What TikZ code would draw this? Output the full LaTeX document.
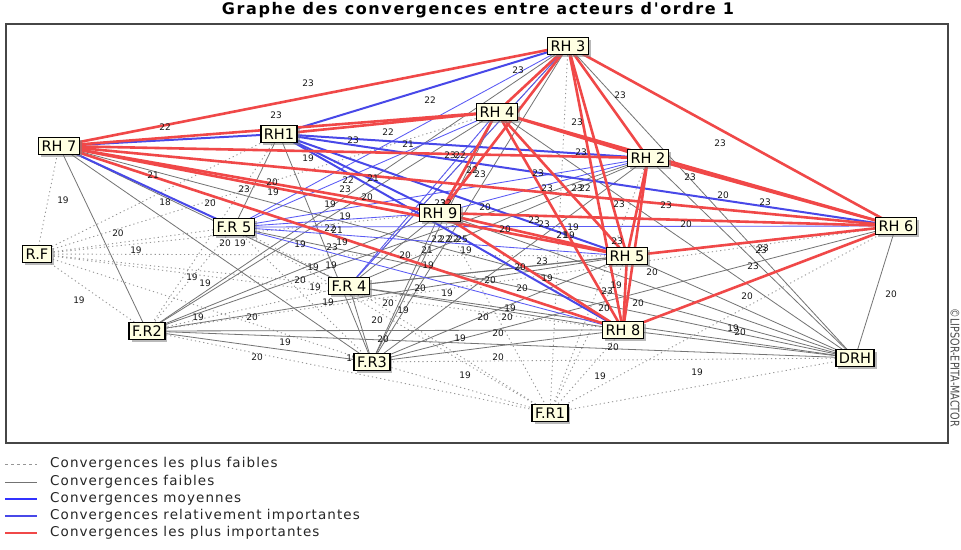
\documentclass[tikz,border=0pt]{standalone}
\usepackage{fontspec}
\setmainfont{DejaVu Sans}
\newfontfamily\legfont[LetterSpace=8]{DejaVu Sans}
\newfontfamily\titfont[LetterSpace=10]{DejaVu Sans}
\usetikzlibrary{shadows}
\definecolor{cred}{RGB}{240,72,72}
\definecolor{cblue}{RGB}{72,72,232}
\definecolor{cbluet}{RGB}{90,90,245}
\definecolor{cbluel}{RGB}{50,50,255}
\definecolor{cgray}{RGB}{115,115,115}
\definecolor{cdot}{RGB}{150,150,150}
\definecolor{nfill}{RGB}{255,255,226}
\definecolor{frm}{RGB}{70,70,70}
\pgfdeclarelayer{bg}
\pgfdeclarelayer{edges}
\pgfdeclarelayer{lbl}
\pgfsetlayers{bg,edges,lbl,main}
\begin{document}
\begin{tikzpicture}[x=1pt,y=-1pt,
  actor/.style={draw=black,line width=1.3pt,fill=nfill,inner xsep=3pt,inner ysep=3pt,
    font=\fontsize{14.5}{14.5}\selectfont,
    drop shadow={shadow xshift=2.5pt,shadow yshift=-2.5pt,fill=black!50,opacity=0.55}},
  lab/.style={font=\fontsize{9}{9}\selectfont,inner sep=0pt,text=black!90},
  dotl/.style={draw=cdot,line width=0.9pt,dash pattern=on 1.2pt off 3pt},
  grayl/.style={draw=cgray,line width=0.8pt},
  bluet/.style={draw=cbluet,line width=0.85pt},
  blueb/.style={draw=cblue,line width=2pt},
  redl/.style={draw=cred,line width=2.6pt},
  legtext/.style={anchor=west,inner sep=0pt,font=\legfont\fontsize{13.5}{13.5}\selectfont,text=black!85},
  frame/.style={draw=frm,line width=1.4pt}]
\useasboundingbox (0,0) rectangle (961,549);
\begin{pgfonlayer}{bg}
\fill[white] (0,0) rectangle (961,549);
\end{pgfonlayer}
\draw[frame] (6,24) rectangle (948,443);
\node[font=\titfont\fontsize{16}{16}\selectfont\bfseries,inner sep=0pt] (title) at (478,10) {Graphe des convergences entre acteurs d'ordre 1};
\node[rotate=-90,inner sep=0pt,font=\fontsize{12}{12}\selectfont,text=black!70] (copy) at (955,368) {\scalebox{0.8}[1]{©LIPSOR-EPITA-MACTOR}};
% actors
\node[actor] (r3) at (568,46) {RH 3};
\node[actor] (r4) at (497,112) {RH 4};
\node[actor] (r1) at (279,134) {RH1};
\node[actor] (r7) at (59,146) {RH 7};
\node[actor] (r2) at (648,158) {RH 2};
\node[actor] (r9) at (440,213) {RH 9};
\node[actor] (f5) at (234,227) {F.R 5};
\node[actor] (r6) at (896,226) {RH 6};
\node[actor] (rf) at (37,254) {R.F};
\node[actor] (r5) at (627,256) {RH 5};
\node[actor] (f4) at (349,286) {F.R 4};
\node[actor] (f2) at (147,331) {F.R2};
\node[actor] (r8) at (623,330) {RH 8};
\node[actor] (f3) at (372,362) {F.R3};
\node[actor] (d) at (855,358) {DRH};
\node[actor] (f1) at (550,413) {F.R1};
\begin{pgfonlayer}{edges}
\foreach \a/\b in {rf/r7,rf/f5,rf/f2,rf/f4,rf/f3,rf/r9,rf/r1,rf/r8,rf/r5,rf/r4,
  f1/f3,f1/f2,f1/d,f1/r3,f1/r8,f1/f4,f1/r5,f1/r9,f1/f5,f1/r6,f1/r2,
  f5/f2,f5/f4,f5/f3,r7/f5,r1/f2,f2/f4,r6/f2,f3/d,r4/f4}
  \draw[dotl] (\a.center) -- (\b.center);
\foreach \a/\b in {r7/f2,r7/f3,r7/f4,r7/d,r1/f5,r1/f3,
  r3/d,r3/f2,r3/f3,r3/f4,r4/d,r4/f2,r4/f3,
  r2/d,r2/f2,r2/f3,r2/f4,r9/f2,r9/f3,r9/f4,r9/d,
  r5/f2,r5/f3,r5/f4,r5/d,r8/f2,r8/f3,r8/f4,r8/d,
  r6/d,r6/f3,r6/f4,d/f2,d/f4,f2/f3,f3/f4,f5/d}
  \draw[grayl] (\a.center) -- (\b.center);
\foreach \a/\b in {f5/r3,f5/r4,f5/r2,f5/r9,f5/r5,f5/r6,f5/r8,f4/r3,f4/r4,r9/r2}
  \draw[bluet] (\a.center) -- (\b.center);
\foreach \a/\b in {r7/r1,r1/r3,r1/r2,r1/r9,r1/r5,r1/r8,r1/r6,r7/f5}
  \draw[blueb] (\a.center) -- (\b.center);
\foreach \a/\b in {r7/r3,r7/r4,r7/r2,r7/r6,r7/r9,r7/r5,r7/r8,r1/r4,
  r3/r9,r3/r2,r3/r5,r3/r8,r3/r6,r3/r4,r4/r2,r4/r6,r4/r9,r4/r5,r4/r8,
  r2/r5,r2/r8,r2/r6,r9/r5,r9/r8,r9/r6,r5/r8,r5/r6,r8/r6}
  \draw[redl] (\a.center) -- (\b.center);
\end{pgfonlayer}
\begin{pgfonlayer}{lbl}
\foreach [count=\i] \x/\y/\t in {308/83/23,165/127/22,276/115/23,430/100/22,518/70/23,388/132/22,
  353/140/23,408/144/21,450/155/23,460/155/22,620/95/23,577/122/23,581/152/23,720/143/23,690/177/23,
  308/158/19,153/175/21,244/189/23,272/182/20,273/192/19,348/180/22,373/178/21,345/189/23,367/197/20,
  63/200/19,165/202/18,210/203/20,330/204/19,345/216/19,472/170/22,480/174/23,538/173/23,547/188/23,
  577/188/23,585/188/22,619/204/23,666/205/23,723/195/20,765/202/23,485/207/20,686/224/20,534/220/23,
  544/224/23,573/227/19,505/229/20,562/235/21,569/235/19,617/241/23,761/250/23,763/248/23,753/266/23,
  652/272/20,542/261/23,520/267/20,547/278/19,490/280/20,522/288/20,747/296/20,891/294/20,607/291/23,
  616/285/19,638/303/20,604/308/20,510/308/19,507/317/20,483/317/20,498/333/20,733/328/19,740/332/20,
  613/347/20,498/357/20,600/376/19,697/372/19,465/375/19,460/338/19,383/339/20,285/342/19,257/357/20,
  352/358/19,377/320/20,403/310/19,388/303/20,328/302/19,420/288/20,447/293/19,315/287/19,300/280/20,
  313/267/19,331/265/19,405/255/20,427/250/21,428/265/19,466/250/19,437/239/22,445/239/22,453/239/22,
  462/239/25,300/244/19,332/247/23,342/242/19,330/228/22,337/230/21,118/233/20,136/250/19,225/243/20,
  240/243/19,192/277/19,205/283/19,79/300/19,198/317/19,252/317/20,440/203/23,446/203/22}
  \node[lab] (lab\i) at (\x,\y) {\t};
\end{pgfonlayer}
% legend
\coordinate (la1) at (5,464); \coordinate (lb1) at (37,464);
\coordinate (la2) at (5,482); \coordinate (lb2) at (37,482);
\coordinate (la3) at (5,499); \coordinate (lb3) at (37,499);
\coordinate (la4) at (5,516); \coordinate (lb4) at (37,516);
\coordinate (la5) at (5,533); \coordinate (lb5) at (37,533);
\draw[draw=cdot,line width=0.9pt,dash pattern=on 3pt off 3pt] (la1) -- (lb1);
\draw[grayl] (la2) -- (lb2);
\draw[draw=cbluel,line width=1.2pt] (la3) -- (lb3);
\draw[blueb,line width=2.4pt] (la4) -- (lb4);
\draw[redl,line width=2.4pt] (la5) -- (lb5);
\node[legtext] (lt1) at (50,464) {Convergences les plus faibles};
\node[legtext] (lt2) at (50,482) {Convergences faibles};
\node[legtext] (lt3) at (50,499) {Convergences moyennes};
\node[legtext] (lt4) at (50,516) {Convergences relativement importantes};
\node[legtext] (lt5) at (50,533) {Convergences les plus importantes};
\end{tikzpicture}
\end{document}
